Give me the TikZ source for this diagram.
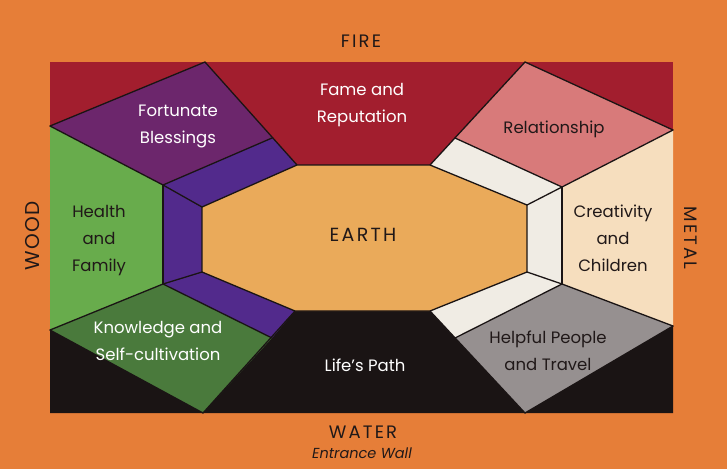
\documentclass[tikz,border=0pt]{standalone}
\usepackage{fontspec}
\setmainfont{Poppins}
\newfontfamily\elemfont[LetterSpace=12]{Poppins}
\newfontfamily\woodfont[LetterSpace=8]{Poppins}
\definecolor{bgorange}{RGB}{230,126,56}
\definecolor{firered}{RGB}{162,30,46}
\definecolor{fbpurple}{RGB}{108,38,108}
\definecolor{bandblue}{RGB}{82,42,140}
\definecolor{healthgreen}{RGB}{104,172,76}
\definecolor{knowgreen}{RGB}{74,122,60}
\definecolor{earthcol}{RGB}{234,170,90}
\definecolor{relpink}{RGB}{216,122,122}
\definecolor{bandwhite}{RGB}{240,236,228}
\definecolor{creacol}{RGB}{246,222,190}
\definecolor{helpgray}{RGB}{150,144,144}
\definecolor{blackish}{RGB}{26,20,20}
\definecolor{darktext}{RGB}{32,24,24}
\tikzset{
  edge/.style={draw=blackish, line width=1.3pt, line join=round, line cap=round},
  lbl/.style={align=center, font=\fontsize{16.5}{27}\selectfont},
  lw/.style={lbl, text=white},
  ld/.style={lbl, text=darktext},
  elem/.style={text=darktext, font=\elemfont\fontsize{18}{20}\selectfont}
}
\begin{document}
\begin{tikzpicture}[x=1pt,y=-1pt]
\fill[bgorange] (0,0) rectangle (727,469);
\useasboundingbox (0,0) rectangle (727,469);
% frame corners
\coordinate (TL) at (50,62);
\coordinate (TR) at (673,62);
\coordinate (BR) at (673,413);
\coordinate (BL) at (50,413);
% Fortunate Blessings
\coordinate (a1) at (205,62);
\coordinate (a2) at (50,126);
\coordinate (a3) at (163,185);
\coordinate (a4) at (272,138);
% octagon
\coordinate (o1) at (202,207);
\coordinate (o2) at (297,165);
\coordinate (o3) at (430,165);
\coordinate (o4) at (527,205);
\coordinate (o5) at (527,272);
\coordinate (o6) at (430,311);
\coordinate (o7) at (295,311);
\coordinate (o8) at (202,272);
% knowledge
\coordinate (k1) at (163,284);
\coordinate (k2) at (50,330);
\coordinate (k3) at (203,413);
\coordinate (k4) at (272,338);
% relationship
\coordinate (r1) at (525,62);
\coordinate (r2) at (673,130);
\coordinate (r3) at (562,187);
\coordinate (r4) at (455,138);
% helpful
\coordinate (h1) at (562,284);
\coordinate (h2) at (673,326);
\coordinate (h3) at (525,413);
\coordinate (h4) at (455,338);
% fills
\fill[firered] (TL) rectangle (BR);
\fill[blackish] (k2) -- (k3) -- (BL) -- cycle;
\fill[blackish] (h2) -- (BR) -- (h3) -- cycle;
\fill[blackish] (o7) -- (o6) -- (h3) -- (k3) -- cycle;
\fill[fbpurple] (a1) -- (a4) -- (a3) -- (a2) -- cycle;
\fill[healthgreen] (a2) -- (a3) -- (k1) -- (k2) -- cycle;
\fill[knowgreen] (k1) -- (k4) -- (k3) -- (k2) -- cycle;
\fill[bandblue] (a3) -- (a4) -- (o2) -- (o1) -- (o8) -- (o7) -- (k4) -- (k1) -- cycle;
\fill[relpink] (r1) -- (r2) -- (r3) -- (r4) -- cycle;
\fill[creacol] (r3) -- (r2) -- (h2) -- (h1) -- cycle;
\fill[helpgray] (h1) -- (h2) -- (h3) -- (h4) -- cycle;
\fill[bandwhite] (r4) -- (r3) -- (h1) -- (h4) -- (o6) -- (o5) -- (o4) -- (o3) -- cycle;
\fill[earthcol] (o1) -- (o2) -- (o3) -- (o4) -- (o5) -- (o6) -- (o7) -- (o8) -- cycle;
% edges
\draw[edge] (o1) -- (o2) -- (o3) -- (o4) -- (o5) -- (o6) -- (o7) -- (o8) -- cycle;
\draw[edge] (a1) -- (a2);
\draw[edge] (a1) -- (o2);
\draw[edge] (a2) -- (a3) -- (a4);
\draw[edge] (a3) -- (k1);
\draw[edge] (a3) -- (o1);
\draw[edge] (k1) -- (o8);
\draw[edge] (k2) -- (k1) -- (k4);
\draw[edge] (o7) -- (k3);
\draw[edge] (k2) -- (k3);
\draw[edge] (r1) -- (o3);
\draw[edge] (r1) -- (r2);
\draw[edge] (r4) -- (r3) -- (r2);
\draw[edge] (r3) -- (h1);
\draw[edge] (r3) -- (o4);
\draw[edge] (h1) -- (o5);
\draw[edge] (h4) -- (h1) -- (h2);
\draw[edge] (o6) -- (h3);
\draw[edge] (h2) -- (h3);
% labels
\node[elem] (fire) at (361,41) {FIRE};
\node[elem] (water) at (363,432) {WATER};
\node[text=darktext, font=\fontsize{14.5}{16}\selectfont\itshape] (entr) at (362,453) {Entrance Wall};
\node[text=darktext, font=\woodfont\fontsize{20}{22}\selectfont, rotate=90] (wood) at (33,236) {WOOD};
\node[elem, rotate=-90] (metal) at (691,238) {METAL};
\node[lw] (fb) at (178,126) {Fortunate\\Blessings};
\node[lw] (fame) at (362,105) {Fame and\\Reputation};
\node[ld] (rel) at (554,129) {Relationship};
\node[ld] (health) at (99,241) {Health\\and\\Family};
\node[text=darktext, font=\elemfont\fontsize{19}{22}\selectfont] (earth) at (363,235) {EARTH};
\node[ld] (crea) at (613,238) {Creativity\\and\\Children};
\node[lw] (know) at (158,341) {Knowledge and\\Self-cultivation};
\node[lw] (life) at (365,365) {Life’s Path};
\node[ld] (help) at (548,351) {Helpful People\\and Travel};
\end{tikzpicture}
\end{document}
